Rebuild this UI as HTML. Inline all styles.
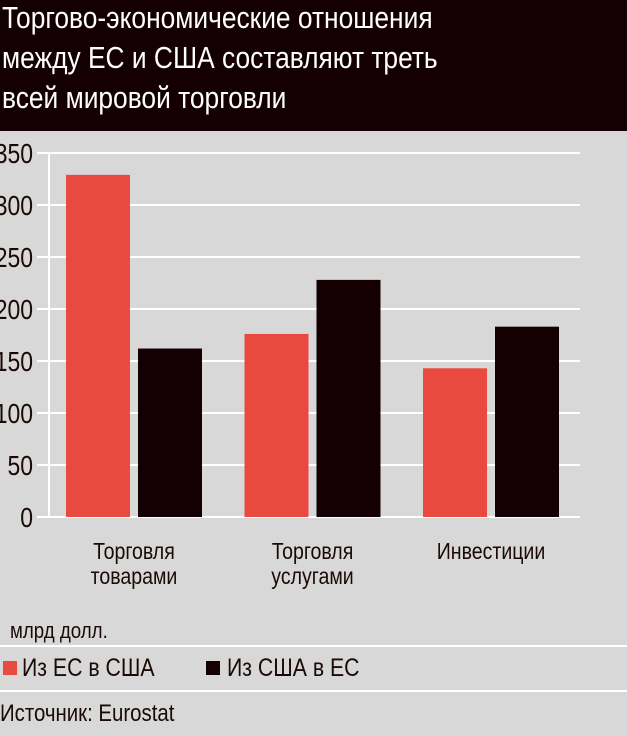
<!DOCTYPE html>
<html><head><meta charset="utf-8"><style>
body{margin:0;width:627px;height:736px;background:#d8d8d8;overflow:hidden;font-family:"Liberation Sans",sans-serif;}
#title{position:absolute;left:0;top:0;width:627px;height:131px;background:#140002;}
#title div{position:absolute;left:2px;color:#fff;font-size:31px;transform:scaleX(0.85);transform-origin:left;white-space:nowrap;}
.t{position:absolute;color:#1a0a05;font-size:22px;transform:scaleX(0.85);transform-origin:left;white-space:nowrap;}
.sep{position:absolute;left:0;width:627px;height:2px;background:#fff;}
</style></head><body>
<div id="title">
<div style="top:0px">Торгово-экономические отношения</div>
<div style="top:40px">между ЕС и США составляют треть</div>
<div style="top:80px">всей мировой торговли</div>
</div>
<svg id="chart" width="627" height="600" style="position:absolute;left:0;top:0"></svg>
<div class="t" style="left:10px;top:618px">млрд долл.</div>
<div class="sep" style="top:645px"></div>
<div style="position:absolute;left:3px;top:661px;width:14px;height:14px;background:#e84a3f"></div>
<div class="t" style="left:22px;top:654px;font-size:25px">Из ЕС в США</div>
<div style="position:absolute;left:206px;top:661px;width:14px;height:14px;background:#140002"></div>
<div class="t" style="left:227px;top:654px;font-size:25px">Из США в ЕС</div>
<div class="sep" style="top:690px"></div>
<div class="t" style="left:0px;top:700px;font-size:24px">Источник: Eurostat</div>
<script>
const categories=["Торговля|товарами","Торговля|услугами","Инвестиции"];
const euToUs=[329,176,143];
const usToEu=[162,228,183];
const ticks=[0,50,100,150,200,250,300,350];
const svg=document.getElementById('chart');
const NS="http://www.w3.org/2000/svg";
const y=v=>517-v*1.04;
const groupX=i=>66+i*178.5;
function mk(t,a){const e=document.createElementNS(NS,t);for(const k in a)e.setAttribute(k,a[k]);svg.appendChild(e);return e;}
ticks.forEach(t=>{
 const l=mk('line',{x1:37,x2:580,y1:y(t),y2:y(t),stroke:'#fff','stroke-width':2});
 
 
 const tx=mk('text',{x:33,y:y(t)+10,'text-anchor':'end','font-size':28,fill:'#1a0a05','font-family':'Liberation Sans, sans-serif',transform:`translate(33,0) scale(0.82,1) translate(-33,0)`});
 tx.textContent=t;
 
 
});
const ax=mk('line',{x1:49,x2:49,y1:152,y2:518,stroke:'#fff','stroke-width':2});


categories.forEach((c,i)=>{
 const x0=groupX(i);
 const r=mk('rect',{x:x0,y:y(euToUs[i]),width:64,height:euToUs[i]*1.04,fill:'#e84a3f'});
 
 
 const b=mk('rect',{x:x0+72,y:y(usToEu[i]),width:64,height:usToEu[i]*1.04,fill:'#140002'});
 
 
 c.split('|').forEach((ln,j)=>{
  const cx=x0+68;
  const t=mk('text',{x:cx,y:559+j*25,'text-anchor':'middle','font-size':23,fill:'#1a0a05','font-family':'Liberation Sans, sans-serif',transform:`translate(${cx},0) scale(0.85,1) translate(${-cx},0)`});
  t.textContent=ln;
  
  
 });
});
</script>
</body></html>
